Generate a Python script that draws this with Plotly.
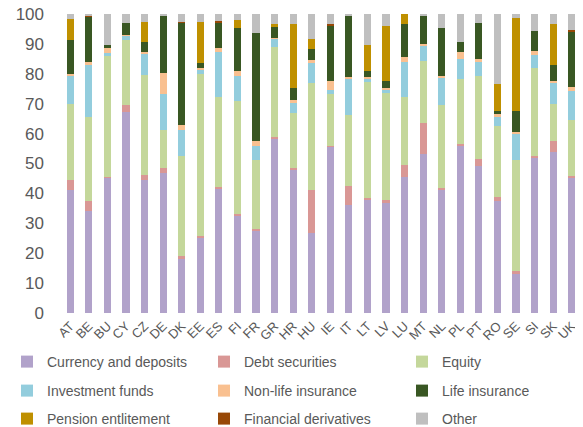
import plotly.graph_objects as go

countries = ["AT", "BE", "BU", "CY", "CZ", "DE", "DK", "EE", "ES", "FI", "FR", "GR", "HR", "HU",
             "IE", "IT", "LT", "LV", "LU", "MT", "NL", "PL", "PT", "RO", "SE", "SI", "SK", "UK"]

currency = [41.0, 34.2, 45.3, 67.1, 44.4, 46.7, 18.1, 25.3, 41.4, 32.3, 27.5, 58.1, 48.1, 26.9,
            55.8, 36.1, 37.8, 36.9, 45.6, 53.1, 41.4, 56.0, 49.2, 37.6, 13.3, 52.1, 54.0, 45.4]
debt = [3.5, 3.1, 0.3, 2.5, 1.8, 1.9, 0.8, 0.5, 0.9, 0.7, 0.5, 0.9, 0.5, 14.3,
        0.2, 6.4, 0.8, 0.9, 3.9, 10.5, 0.3, 0.4, 2.2, 1.3, 0.6, 0.5, 3.5, 0.4]
equity = [25.5, 28.4, 40.3, 21.7, 33.4, 12.6, 33.6, 54.3, 30.0, 37.9, 23.2, 30.0, 18.4, 35.6,
          17.2, 23.7, 38.5, 35.7, 22.6, 20.6, 27.7, 21.8, 27.9, 23.6, 37.3, 29.2, 12.4, 18.8]
inv_funds = [9.5, 17.1, 0.9, 1.4, 7.0, 11.9, 8.7, 1.4, 15.1, 8.4, 4.8, 2.8, 3.3, 6.9,
             1.4, 11.9, 1.4, 1.1, 11.9, 5.1, 9.3, 6.7, 4.7, 3.1, 8.7, 4.5, 7.3, 9.7]
non_life = [0.6, 1.1, 1.7, 0.3, 0.8, 7.3, 1.7, 0.3, 1.1, 1.7, 1.6, 0.2, 0.9, 0.9,
            3.0, 0.9, 0.5, 0.6, 1.5, 0.6, 0.6, 2.5, 0.8, 0.8, 0.6, 1.4, 0.4, 1.2]
life = [11.3, 15.2, 1.3, 4.1, 3.3, 19.2, 34.2, 1.7, 8.7, 14.2, 36.2, 3.7, 3.9, 3.6,
        18.7, 20.6, 1.9, 2.5, 11.1, 9.5, 16.1, 3.3, 12.3, 1.3, 7.2, 6.6, 5.5, 18.6]
pension = [7.0, 0, 0, 0, 6.6, 0, 0, 13.9, 0, 2.7, 0, 0.9, 21.5, 3.3,
           0, 0, 8.9, 18.3, 3.4, 0, 0, 0, 0, 8.8, 31.1, 0, 13.4, 0]
fin_deriv = [0, 0.4, 0, 0, 0, 0, 0.2, 0, 0.3, 0, 0, 0, 0, 0,
             0.3, 0, 0, 0, 0, 0, 0, 0, 0, 0, 0, 0, 0, 0.5]
other = [1.6, 0.5, 10.2, 2.9, 2.7, 0.4, 2.7, 2.6, 2.5, 2.1, 6.2, 3.4, 3.4, 8.5,
         3.4, 0.4, 10.2, 4.0, 0, 0.6, 4.6, 9.3, 2.9, 23.5, 1.2, 5.7, 3.5, 5.4]

series_names = ["Currency and deposits", "Debt securities", "Equity",
                "Investment funds", "Non-life insurance", "Life insurance",
                "Pension entlitement", "Financial derivatives", "Other"]
series_values = [currency, debt, equity, inv_funds, non_life, life, pension, fin_deriv, other]
series_colors = ["#b1a2ca", "#d99795", "#c4d79b", "#93cddd", "#f9c090", "#395723",
                 "#bf9000", "#984807", "#bfbfbf"]

# page body has an 8px margin, so the figure is sized to fill the rest of the window
W, H = 575, 419
ML, MR, MT, MB = 53, 2, 6, 114
PW, PH = W - ML - MR, H - MT - MB

font_family = "Arial, Liberation Sans, sans-serif"

# legend grid (figure pixel positions of text start / row centre)
col_text_x = [39, 236, 434]
row_center_y = [354, 383, 411]

fig = go.Figure()
layout_legends = {}
for i, (name, vals, color) in enumerate(zip(series_names, series_values, series_colors)):
    key = "legend" if i == 0 else f"legend{i + 1}"
    fig.add_trace(go.Bar(x=countries, y=vals, name=name, marker_color=color,
                         marker_line_width=0, legend=key))
    r, c = divmod(i, 3)
    lx = (col_text_x[c] - 40 - ML) / PW
    ly = (H - MB - row_center_y[r]) / PH
    layout_legends[key] = dict(
        orientation="v", xanchor="left", yanchor="middle", x=lx, y=ly,
        font=dict(family=font_family, size=14, color="#595959"),
        bgcolor="rgba(0,0,0,0)", borderwidth=0, itemclick=False,
    )

fig.update_layout(
    width=W, height=H, showlegend=True,
    margin=dict(l=ML, r=MR, t=MT, b=MB, pad=0, autoexpand=False),
    paper_bgcolor="white", plot_bgcolor="white",
    barmode="stack", bargap=0.62,
    font=dict(family=font_family, color="#595959"),
    xaxis=dict(tickangle=-45, tickfont=dict(size=13, color="#595959"), showgrid=False,
               showline=False, ticks="", ticklabelstandoff=2, automargin=False),
    yaxis=dict(range=[0, 100], dtick=10, tickfont=dict(size=17, color="#595959"),
               showgrid=False, showline=False, ticks="", zeroline=False,
               ticklabelstandoff=16, automargin=False, ticklabeloverflow="allow"),
    **layout_legends,
)

fig.write_html("out.html")
